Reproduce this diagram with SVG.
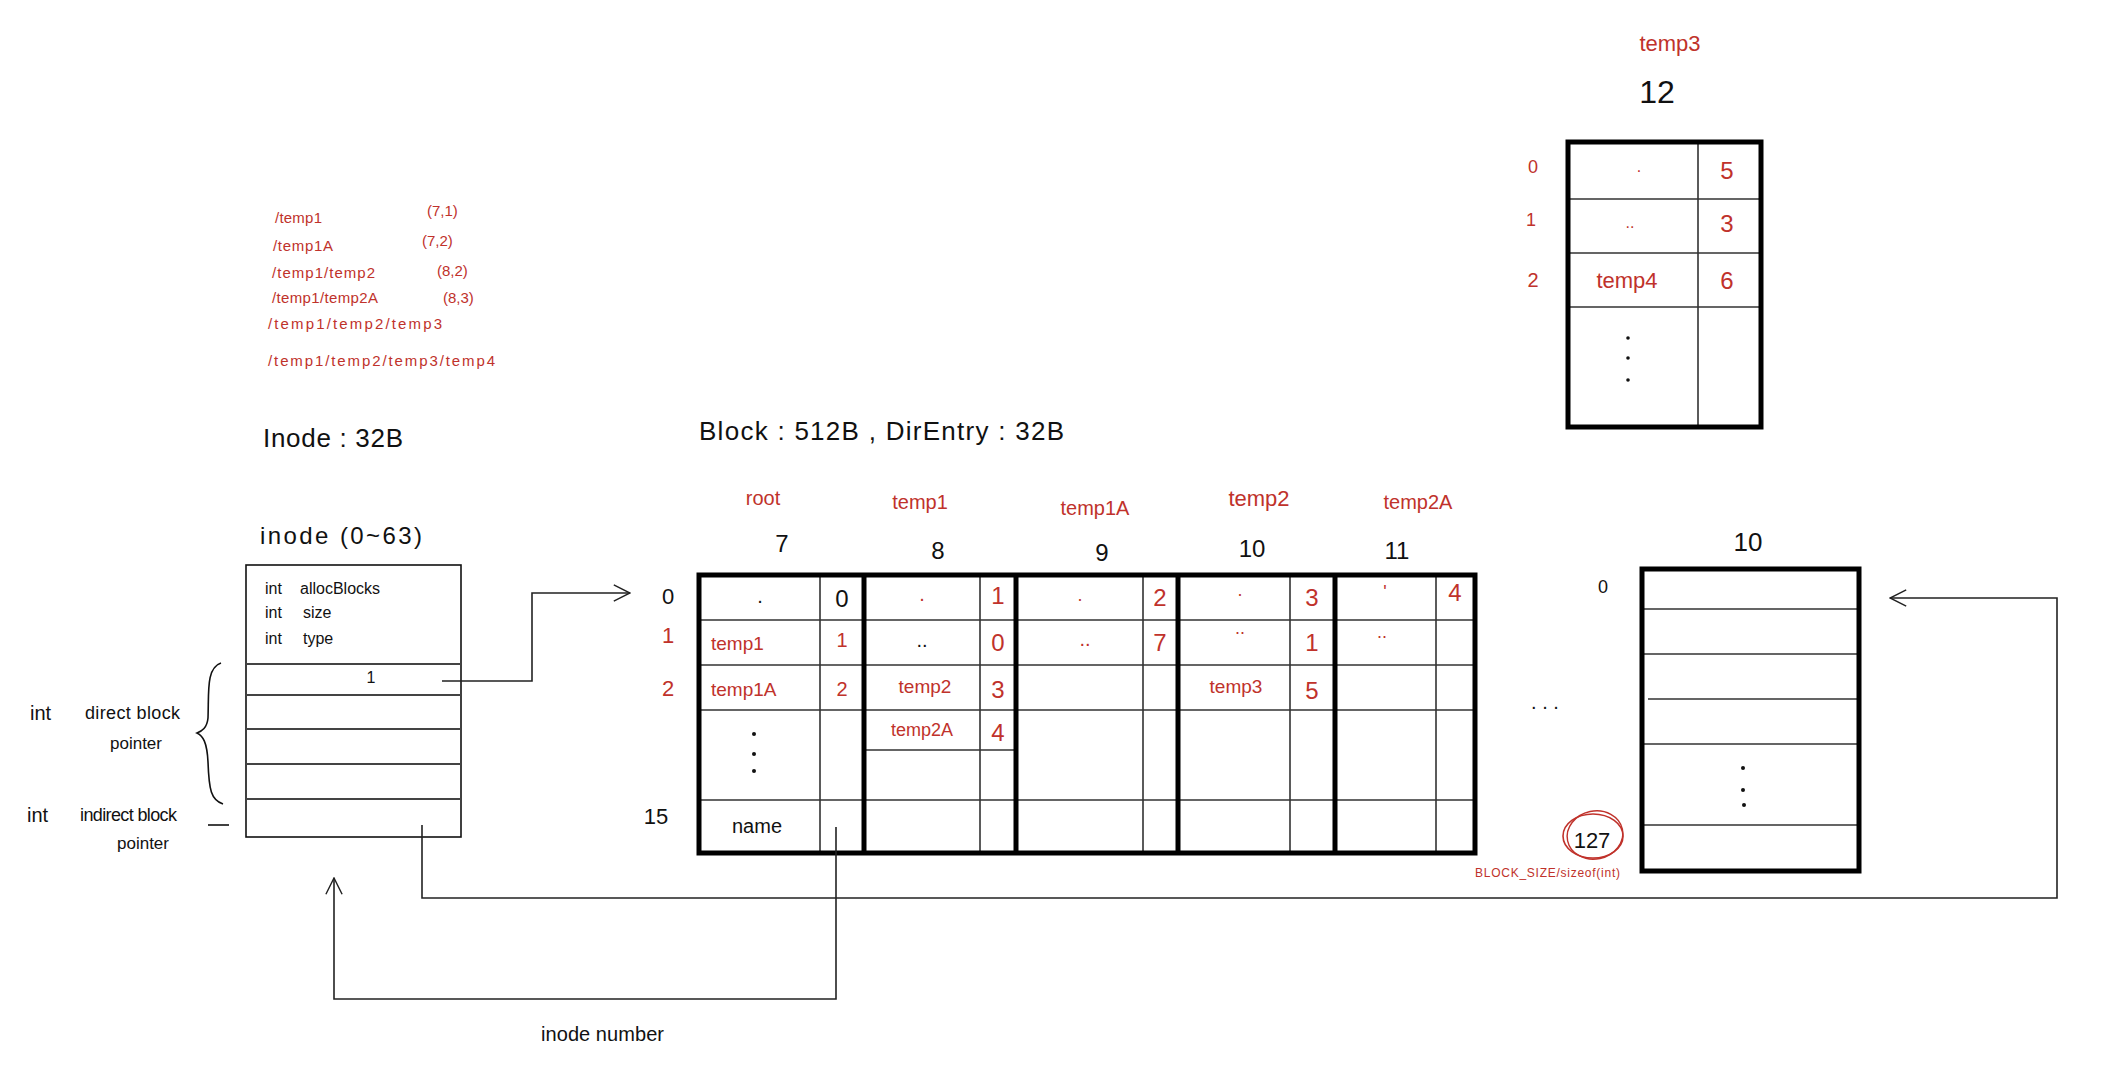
<svg xmlns="http://www.w3.org/2000/svg" width="2112" height="1090" viewBox="0 0 2112 1090">
<style>
text{font-family:"Liberation Sans","DejaVu Sans",sans-serif;dominant-baseline:central;}
.r{fill:#c0322b;}
.k{fill:#111;}
.m{text-anchor:middle;}
.thick{fill:none;stroke:#000;stroke-width:5;}
.thin{fill:none;stroke:#333;stroke-width:1.6;}
.conn{fill:none;stroke:#222;stroke-width:1.6;}
</style>
<defs>
<marker id="open" viewBox="0 0 20 20" refX="19" refY="10" markerWidth="18" markerHeight="18" markerUnits="userSpaceOnUse" orient="auto">
<path d="M1,1 L19,10 L1,19" fill="none" stroke="#222" stroke-width="1.6"/>
</marker>
</defs>
<rect width="2112" height="1090" fill="#fff"/>

<g id="paths">
<text class="r" x="275" y="217" font-size="15" textLength="47">/temp1</text>
<text class="r" x="273" y="245" font-size="15" textLength="60">/temp1A</text>
<text class="r" x="272" y="272" font-size="15" textLength="103">/temp1/temp2</text>
<text class="r" x="272" y="297" font-size="15" textLength="106">/temp1/temp2A</text>
<text class="r" x="268" y="323" font-size="15" textLength="174">/temp1/temp2/temp3</text>
<text class="r" x="268" y="360" font-size="15" textLength="227">/temp1/temp2/temp3/temp4</text>
<text class="r" x="427" y="210" font-size="15">(7,1)</text>
<text class="r" x="422" y="240" font-size="15">(7,2)</text>
<text class="r" x="437" y="270" font-size="15">(8,2)</text>
<text class="r" x="443" y="297" font-size="15">(8,3)</text>
</g>

<g id="titles">
<text class="k" x="263" y="438" font-size="26" textLength="140">Inode : 32B</text>
<text class="k" x="699" y="431" font-size="26" textLength="365">Block : 512B , DirEntry : 32B</text>
<text class="k" x="260" y="535" font-size="24" textLength="162">inode (0~63)</text>
</g>

<g id="inode">
<rect x="246" y="565" width="215" height="272" fill="none" stroke="#111" stroke-width="1.6"/>
<path d="M246,664H461M246,695H461M246,729H461M246,764H461M246,799H461" fill="none" stroke="#444" stroke-width="2"/>
<text class="k" x="265" y="588" font-size="16">int</text>
<text class="k" x="300" y="588" font-size="16">allocBlocks</text>
<text class="k" x="265" y="612" font-size="16">int</text>
<text class="k" x="303" y="612" font-size="16">size</text>
<text class="k" x="265" y="638" font-size="16">int</text>
<text class="k" x="303" y="638" font-size="16">type</text>
<text class="k m" x="371" y="677" font-size="16">1</text>
</g>

<g id="inode-labels">
<text class="k" x="30" y="713" font-size="20">int</text>
<text class="k" x="85" y="713" font-size="18" textLength="95">direct block</text>
<text class="k" x="110" y="743" font-size="17">pointer</text>
<text class="k" x="27" y="815" font-size="20">int</text>
<text class="k" x="80" y="815" font-size="18" textLength="97">indirect block</text>
<text class="k" x="117" y="843" font-size="17">pointer</text>
<path d="M221,663 C206,668 209,692 208,718 C207,728 202,731 197,733 C203,736 207,742 208,762 C209,790 211,800 223,804" fill="none" stroke="#111" stroke-width="1.6"/>
<path d="M208,825H229" fill="none" stroke="#111" stroke-width="1.6"/>
</g>

<g id="dir-table">
<text class="r m" x="763" y="498" font-size="20">root</text>
<text class="k m" x="782" y="543" font-size="24">7</text>
<text class="r m" x="920" y="502" font-size="20">temp1</text>
<text class="k m" x="938" y="550" font-size="24">8</text>
<text class="r m" x="1095" y="508" font-size="20">temp1A</text>
<text class="k m" x="1102" y="552" font-size="24">9</text>
<text class="r m" x="1259" y="498" font-size="22">temp2</text>
<text class="k m" x="1252" y="548" font-size="24">10</text>
<text class="r m" x="1418" y="502" font-size="20">temp2A</text>
<text class="k m" x="1397" y="550" font-size="24">11</text>

<text class="k m" x="668" y="596" font-size="22">0</text>
<text class="r m" x="668" y="635" font-size="22">1</text>
<text class="r m" x="668" y="688" font-size="22">2</text>
<text class="k m" x="656" y="816" font-size="22">15</text>

<path class="thin" d="M699,620H1475M699,665H1475M699,710H1475M864,750H1016M699,800H1475"/>
<path class="thin" d="M820,575V853M980,575V853M1143,575V853M1290,575V853M1436,575V853"/>
<path class="thick" d="M699,575H1475V853H699Z M864,575V853 M1016,575V853 M1178,575V853 M1335,575V853"/>

<text class="k m" x="760" y="596" font-size="20">.</text>
<text class="k m" x="842" y="598" font-size="24">0</text>
<text class="r m" x="922" y="594" font-size="20">.</text>
<text class="r m" x="998" y="595" font-size="24">1</text>
<text class="r m" x="1080" y="595" font-size="18">.</text>
<text class="r m" x="1160" y="597" font-size="24">2</text>
<text class="r m" x="1240" y="590" font-size="18">.</text>
<text class="r m" x="1312" y="597" font-size="24">3</text>
<text class="r m" x="1385" y="592" font-size="18">'</text>
<text class="r m" x="1455" y="592" font-size="24">4</text>

<text class="r" x="711" y="643" font-size="19">temp1</text>
<text class="r m" x="842" y="640" font-size="20">1</text>
<text class="k m" x="922" y="640" font-size="20">..</text>
<text class="r m" x="998" y="642" font-size="24">0</text>
<text class="r m" x="1085" y="639" font-size="20">..</text>
<text class="r m" x="1160" y="642" font-size="24">7</text>
<text class="r m" x="1240" y="628" font-size="18">..</text>
<text class="r m" x="1312" y="642" font-size="24">1</text>
<text class="r m" x="1382" y="632" font-size="18">..</text>

<text class="r" x="711" y="689" font-size="19">temp1A</text>
<text class="r m" x="842" y="689" font-size="20">2</text>
<text class="r m" x="925" y="686" font-size="19">temp2</text>
<text class="r m" x="998" y="689" font-size="24">3</text>
<text class="r m" x="1236" y="686" font-size="19">temp3</text>
<text class="r m" x="1312" y="690" font-size="24">5</text>

<text class="r m" x="922" y="730" font-size="18">temp2A</text>
<text class="r m" x="998" y="732" font-size="24">4</text>

<circle cx="754" cy="734" r="2" fill="#111"/>
<circle cx="754" cy="754" r="2" fill="#111"/>
<circle cx="754" cy="771" r="2" fill="#111"/>
<text class="k m" x="757" y="826" font-size="20">name</text>
</g>

<g id="ellipsis">
<text class="k m" x="1545" y="702" font-size="20">. . .</text>
</g>

<g id="block12">
<text class="r m" x="1670" y="43" font-size="22">temp3</text>
<text class="k m" x="1657" y="92" font-size="32">12</text>
<text class="r m" x="1533" y="167" font-size="18">0</text>
<text class="r m" x="1531" y="220" font-size="18">1</text>
<text class="r m" x="1533" y="280" font-size="20">2</text>
<path class="thin" d="M1698,142V427M1568,199H1761M1568,253H1761M1568,307H1761"/>
<rect class="thick" x="1568" y="142" width="193" height="285"/>
<text class="r m" x="1639" y="166" font-size="16">.</text>
<text class="r m" x="1727" y="170" font-size="24">5</text>
<text class="r m" x="1630" y="222" font-size="16">..</text>
<text class="r m" x="1727" y="223" font-size="24">3</text>
<text class="r m" x="1627" y="280" font-size="22">temp4</text>
<text class="r m" x="1727" y="280" font-size="24">6</text>
<circle cx="1628" cy="338" r="1.8" fill="#111"/>
<circle cx="1628" cy="358" r="1.8" fill="#111"/>
<circle cx="1628" cy="380" r="1.8" fill="#111"/>
</g>

<g id="block10">
<text class="k m" x="1748" y="542" font-size="26">10</text>
<text class="k m" x="1603" y="587" font-size="18">0</text>
<path class="thin" d="M1642,609H1859M1642,654H1859M1648,699H1859M1642,744H1859M1642,825H1859"/>
<rect class="thick" x="1642" y="569" width="217" height="302"/>
<circle cx="1743" cy="768" r="2" fill="#111"/>
<circle cx="1743" cy="790" r="2" fill="#111"/>
<circle cx="1744" cy="805" r="2" fill="#111"/>
<ellipse cx="1593" cy="836" rx="30" ry="22" fill="none" stroke="#c0322b" stroke-width="1.6"/>
<ellipse cx="1595" cy="835" rx="28" ry="24" fill="none" stroke="#c0322b" stroke-width="1.4" transform="rotate(-12 1595 835)"/>
<text class="k m" x="1592" y="840" font-size="22">127</text>
<text class="r" x="1475" y="873" font-size="12" textLength="145">BLOCK_SIZE/sizeof(int)</text>
</g>

<g id="connectors">
<path class="conn" d="M442,681H532V593H630" marker-end="url(#open)"/>
<path class="conn" d="M422,825V898H2057V598H1890" marker-end="url(#open)"/>
<path class="conn" d="M836,827V999H334V878" marker-end="url(#open)"/>
<text class="k" x="541" y="1034" font-size="20" textLength="123">inode number</text>
</g>
</svg>
